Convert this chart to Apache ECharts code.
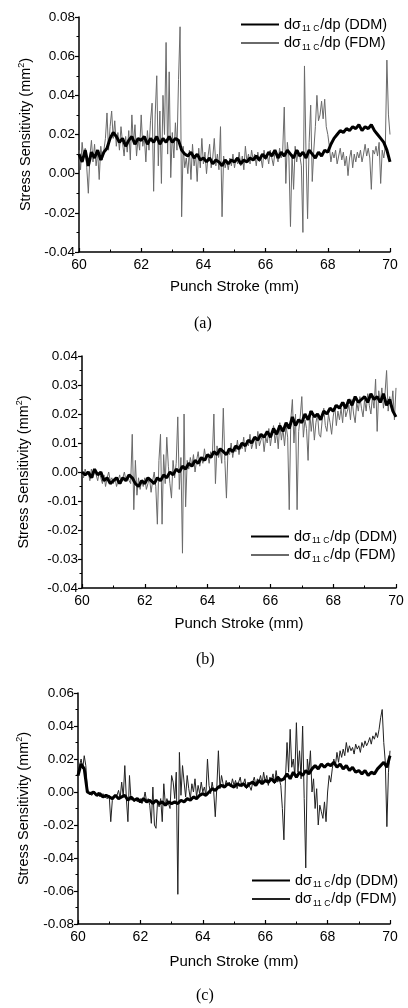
<!DOCTYPE html>
<html>
<head>
<meta charset="utf-8">
<script src="https://cdn.jsdelivr.net/npm/echarts@6/dist/echarts.min.js"></script>
<style>html,body{margin:0;padding:0;background:#fff;}#c{width:408px;height:1008px;}</style>
</head>
<body>
<div id="c"></div>
<script>
// Punch stroke sampling (mm)
const strokeStart = 60;
const ddmStep = 0.1;   // DDM sampled every 0.1 mm (101 points)
const fdmStep = 0.05;  // FDM sampled every 0.05 mm (201 points)

const xTicks = [60, 62, 64, 66, 68, 70];

// ---------- Panel (a) ----------
const ddmA = [
0.010,0.006,0.012,0.004,0.011,0.008,0.012,0.007,0.011,0.013,
0.018,0.021,0.019,0.016,0.018,0.014,0.017,0.019,0.015,0.018,
0.017,0.019,0.015,0.018,0.016,0.019,0.015,0.018,0.016,0.019,
0.016,0.018,0.017,0.012,0.010,0.009,0.011,0.008,0.010,0.007,
0.008,0.006,0.008,0.005,0.007,0.006,0.004,0.007,0.005,0.007,
0.006,0.008,0.005,0.007,0.006,0.008,0.007,0.009,0.007,0.010,
0.008,0.011,0.009,0.012,0.008,0.011,0.009,0.012,0.010,0.008,
0.012,0.009,0.011,0.008,0.012,0.010,0.008,0.011,0.009,0.012,
0.011,0.015,0.018,0.020,0.022,0.021,0.023,0.022,0.024,0.023,
0.025,0.022,0.024,0.023,0.025,0.022,0.020,0.018,0.016,0.012,
0.006];
const fdmA = [
0.012,0.002,0.016,0.008,0.013,0.003,-0.010,0.009,0.017,0.006,
0.015,0.004,0.011,-0.003,0.014,0.007,0.012,0.018,0.031,0.012,
0.024,0.032,0.018,0.027,0.014,0.021,0.012,0.024,0.016,0.009,
0.019,0.011,0.022,0.007,0.030,0.015,0.025,0.009,0.018,0.012,
0.030,0.014,0.019,0.006,0.022,0.012,0.027,0.036,-0.009,0.030,
0.050,0.004,0.032,-0.005,0.040,0.020,0.067,0.010,0.052,-0.002,
0.021,0.008,0.026,0.012,0.048,0.075,-0.022,0.014,0.003,0.008,
0.000,0.012,-0.003,0.015,0.004,0.010,-0.004,0.013,0.003,0.018,
0.005,0.011,0.000,0.009,0.015,0.003,0.008,0.018,0.004,0.010,
0.002,0.024,-0.022,0.009,0.003,0.007,0.002,0.008,0.004,0.010,
0.003,0.008,0.005,0.011,0.004,0.009,0.002,0.014,0.006,0.010,
0.005,0.012,0.007,0.010,0.004,0.011,0.006,0.008,0.003,0.012,
0.007,0.010,0.005,0.012,0.008,0.004,0.011,0.009,0.006,0.013,
0.008,0.012,0.034,-0.005,0.016,0.008,-0.027,0.010,-0.008,0.014,
0.006,0.012,0.009,0.004,-0.030,0.055,0.010,-0.023,0.016,0.035,
-0.004,0.012,0.024,0.040,0.027,0.030,0.037,0.028,0.038,0.024,
0.020,0.014,0.006,0.011,0.008,0.012,0.005,0.009,0.013,0.007,
0.011,0.004,0.009,-0.001,0.008,0.012,0.003,0.010,0.006,0.011,
0.008,0.012,0.006,0.010,0.015,0.009,0.013,0.008,-0.008,0.012,
0.010,0.014,0.009,0.016,-0.005,0.012,0.008,0.014,0.058,0.030,
0.020];

// ---------- Panel (b) ----------
const ddmB = [
0.000,-0.001,0.000,-0.002,0.001,-0.001,0.000,-0.003,-0.002,-0.004,
-0.003,-0.002,-0.004,-0.002,-0.003,-0.001,-0.002,-0.004,-0.005,-0.003,
-0.004,-0.002,-0.003,-0.004,-0.002,-0.003,-0.001,-0.002,0.000,-0.001,
0.001,0.000,0.002,0.001,0.003,0.002,0.004,0.003,0.005,0.004,
0.006,0.005,0.007,0.006,0.008,0.007,0.006,0.008,0.007,0.009,
0.008,0.010,0.009,0.011,0.010,0.012,0.011,0.013,0.012,0.014,
0.012,0.015,0.013,0.016,0.014,0.017,0.015,0.019,0.016,0.018,
0.017,0.020,0.018,0.021,0.019,0.020,0.018,0.021,0.020,0.022,
0.021,0.023,0.022,0.024,0.022,0.025,0.023,0.026,0.024,0.025,
0.026,0.024,0.027,0.025,0.026,0.024,0.027,0.023,0.025,0.021,
0.019];
const fdmB = [
0.000,-0.002,0.001,-0.001,0.000,-0.003,0.001,-0.002,0.000,-0.001,
-0.003,0.000,-0.002,-0.004,-0.001,-0.005,-0.002,0.000,-0.003,-0.002,
-0.004,-0.002,-0.005,-0.003,-0.001,-0.004,-0.002,0.000,-0.003,-0.001,
-0.003,-0.004,0.013,-0.013,0.004,-0.008,-0.002,-0.006,-0.003,-0.005,
-0.002,-0.006,-0.004,-0.002,-0.007,-0.003,0.000,-0.005,-0.018,0.004,
0.013,-0.018,0.006,-0.004,0.012,0.002,-0.004,-0.009,0.004,-0.002,
0.003,0.019,-0.006,0.005,-0.028,0.020,-0.012,0.004,0.001,0.005,
0.002,0.006,0.000,0.004,0.007,0.002,0.005,0.003,0.008,0.004,
0.006,0.003,0.007,0.005,0.020,-0.004,0.009,0.005,0.008,0.003,
0.022,0.004,-0.009,0.008,0.006,0.010,0.005,0.009,0.007,0.011,
0.006,0.010,0.008,0.012,0.007,0.011,0.009,0.013,0.008,0.010,
0.012,0.008,0.014,0.009,0.011,0.013,0.007,0.012,0.010,0.015,
0.009,0.013,0.016,0.010,0.014,0.008,0.017,0.011,0.015,0.009,
0.016,0.012,-0.013,0.018,0.025,0.010,0.020,-0.013,0.014,0.019,
0.026,0.012,0.018,0.015,0.004,0.021,0.014,0.019,0.011,0.017,
0.020,0.013,0.012,0.018,0.022,0.016,0.014,0.020,0.017,0.013,
0.019,0.023,0.016,0.021,0.018,0.022,0.017,0.024,0.019,0.021,
0.023,0.018,0.025,0.020,0.017,0.024,0.021,0.026,0.022,0.019,
0.025,0.021,0.027,0.023,0.020,0.026,0.022,0.032,0.014,0.028,
0.024,0.029,0.022,0.027,0.035,0.021,0.026,0.022,0.028,0.018,
0.029];

// ---------- Panel (c) ----------
const ddmC = [
0.010,0.017,0.014,0.000,-0.001,0.000,-0.002,-0.001,-0.003,-0.002,
-0.003,-0.004,-0.002,-0.004,-0.003,-0.002,-0.005,-0.003,-0.005,-0.004,
-0.006,-0.004,-0.006,-0.005,-0.007,-0.005,-0.007,-0.006,-0.008,-0.006,
-0.007,-0.006,-0.007,-0.005,-0.006,-0.004,-0.005,-0.003,-0.004,-0.002,
-0.001,-0.002,0.000,0.002,0.001,0.003,0.004,0.003,0.005,0.004,
0.003,0.005,0.004,0.005,0.003,0.005,0.006,0.004,0.007,0.005,
0.007,0.006,0.008,0.006,0.009,0.007,0.008,0.011,0.008,0.012,
0.009,0.012,0.010,0.013,0.011,0.014,0.016,0.014,0.017,0.015,
0.017,0.016,0.018,0.015,0.017,0.014,0.016,0.013,0.015,0.012,
0.013,0.011,0.013,0.010,0.012,0.011,0.014,0.016,0.018,0.015,
0.022];
const fdmC = [
0.012,0.016,0.020,0.014,0.022,0.016,0.002,-0.001,0.000,-0.002,
0.000,-0.001,-0.002,0.000,-0.003,-0.002,-0.001,-0.003,-0.002,-0.004,
-0.002,-0.018,-0.005,-0.003,-0.004,-0.002,0.001,-0.004,0.006,-0.003,
0.016,-0.004,-0.018,0.010,-0.005,-0.003,-0.006,-0.004,-0.006,-0.005,
-0.004,-0.007,-0.005,0.000,-0.006,-0.004,-0.008,-0.019,0.003,-0.020,
-0.022,-0.006,-0.009,-0.004,-0.018,0.005,-0.008,-0.004,-0.007,-0.010,
0.010,0.006,-0.004,0.012,-0.062,0.024,-0.002,0.016,0.006,-0.003,
0.010,0.002,-0.004,0.005,0.000,0.008,-0.003,0.004,-0.001,0.006,
0.000,0.003,-0.002,0.020,0.004,-0.001,0.006,0.000,-0.015,0.003,
0.025,0.002,0.010,0.005,0.003,0.007,0.004,0.006,0.003,0.008,
0.004,0.007,0.002,0.006,0.009,0.003,0.005,0.008,0.002,0.006,
0.007,0.001,0.006,0.009,0.004,0.008,0.006,0.010,0.005,0.012,
0.006,0.010,0.004,0.009,0.007,0.011,0.005,0.013,0.006,0.008,
0.004,-0.010,-0.029,0.008,0.030,0.012,0.038,0.015,0.020,0.010,
0.042,0.012,0.025,0.008,0.040,-0.004,-0.046,0.020,0.012,0.025,
0.000,0.008,-0.010,0.002,-0.020,-0.008,-0.012,-0.016,-0.006,-0.018,
0.000,0.010,0.006,0.014,0.020,0.016,0.024,0.018,0.025,0.021,
0.026,0.022,0.030,0.024,0.028,0.025,0.027,0.023,0.029,0.026,
0.028,0.024,0.030,0.027,0.031,0.028,0.030,0.033,0.029,0.034,
0.032,0.036,0.033,0.038,0.045,0.050,0.030,0.018,-0.021,0.012,
0.025];

const yRanges = [
  {min: -0.04, max: 0.08, interval: 0.02},
  {min: -0.04, max: 0.04, interval: 0.01},
  {min: -0.08, max: 0.06, interval: 0.02}
];
const panelLabels = ['(a)', '(b)', '(c)'];
const yTitle = 'Stress Sensitivity (mm{sup|2})';
const xTitle = 'Punch Stroke (mm)';

function toPairs(vals, step) {
  return vals.map((v, i) => [+(strokeStart + i * step).toFixed(2), v]);
}

const FONT = 'Liberation Sans, Arial, sans-serif';
const grids = [
  {left: 79, top: 17, width: 311, height: 235},
  {left: 82, top: 356, width: 314, height: 232},
  {left: 78, top: 693, width: 312, height: 231}
];
const yNameGaps = [41, 49, 45];
const xNameGaps = [27, 28, 30];

const xAxes = grids.map((g, i) => ({
  type: 'value', gridIndex: i, min: 60, max: 70, interval: 2,
  axisLine: {show: true, onZero: false, lineStyle: {color: '#000', width: 1.5}},
  axisTick: {show: true, inside: true, length: 4, lineStyle: {color: '#000', width: 1.2}},
  minorTick: {show: true, splitNumber: 2, length: 2.5, lineStyle: {color: '#000', width: 1}},
  splitLine: {show: false},
  axisLabel: {color: '#000', fontSize: 14, fontFamily: FONT, margin: 6},
  name: xTitle, nameLocation: 'middle', nameGap: xNameGaps[i],
  nameTextStyle: {color: '#000', fontSize: 15, fontFamily: FONT}
}));
const yAxes = grids.map((g, i) => ({
  type: 'value', gridIndex: i, min: yRanges[i].min, max: yRanges[i].max, interval: yRanges[i].interval,
  axisLine: {show: true, onZero: false, lineStyle: {color: '#000', width: 1.5}},
  axisTick: {show: true, inside: false, length: 4, lineStyle: {color: '#000', width: 1.2}},
  minorTick: {show: true, splitNumber: 2, length: 2.5, lineStyle: {color: '#000', width: 1}},
  splitLine: {show: false},
  axisLabel: {color: '#000', fontSize: 13.5, fontFamily: FONT, margin: 4,
    formatter: v => v.toFixed(2)},
  name: yTitle, nameLocation: 'middle', nameGap: yNameGaps[i], nameRotate: 90,
  nameTextStyle: {color: '#000', fontSize: 14.5, fontFamily: FONT,
    rich: {sup: {fontSize: 9, fontFamily: FONT, color: '#000', padding: [0, 0, 9, 0]}}}
}));

const ddmSets = [ddmA, ddmB, ddmC];
const fdmSets = [fdmA, fdmB, fdmC];
const fdmColors = ['#6a6a6a', '#6a6a6a', '#222'];
const series = [];
const legends = [];
const legendPos = [
  {left: 235, top: 12},
  {left: 245, top: 524},
  {left: 246, top: 868}
];
const legendText = {
  DDM: '{n|dσ}{s|11 C}{n|/dp (DDM)}',
  FDM: '{n|dσ}{s|11 C}{n|/dp (FDM)}'
};
for (let i = 0; i < 3; i++) {
  const nD = 'DDM ' + panelLabels[i], nF = 'FDM ' + panelLabels[i];
  series.push({
    name: nF, type: 'line', xAxisIndex: i, yAxisIndex: i, data: toPairs(fdmSets[i], fdmStep),
    showSymbol: false, symbol: 'none', lineStyle: {color: fdmColors[i], width: 1}, itemStyle: {color: fdmColors[i]},
    animation: false, z: 2
  });
  series.push({
    name: nD, type: 'line', xAxisIndex: i, yAxisIndex: i, data: toPairs(ddmSets[i], ddmStep),
    showSymbol: false, symbol: 'none', lineStyle: {color: '#000', width: 3}, itemStyle: {color: '#000'},
    animation: false, z: 3
  });
  legends.push({
    data: [nD, nF], orient: 'vertical', left: legendPos[i].left, top: legendPos[i].top,
    itemWidth: 38, itemHeight: 12, itemGap: 2, selectedMode: false,
    itemStyle: {opacity: 0},
    formatter: name => legendText[name.slice(0, 3)],
    textStyle: {color: '#000', fontSize: 14.5, fontFamily: FONT,
      rich: {n: {fontSize: 14.5, fontFamily: FONT, color: '#000'},
             s: {fontSize: 8.5, fontFamily: FONT, color: '#000', padding: [9, 1, 0, 1]}}}
  });
}

const labelPos = [[205, 326], [207, 662], [207, 998]];
const graphics = labelPos.map((p, i) => ({
  type: 'text', left: p[0] - 11, top: p[1] - 10,
  style: {text: panelLabels[i], fill: '#000', font: '16px "Liberation Serif", "Times New Roman", serif'}
}));

const chart = echarts.init(document.getElementById('c'), null, {renderer: 'canvas'});
chart.setOption({
  animation: false,
  backgroundColor: '#fff',
  grid: grids.map(g => Object.assign({containLabel: false}, g)),
  xAxis: xAxes, yAxis: yAxes,
  legend: legends,
  series: series,
  graphic: graphics
});
</script>
</body>
</html>
